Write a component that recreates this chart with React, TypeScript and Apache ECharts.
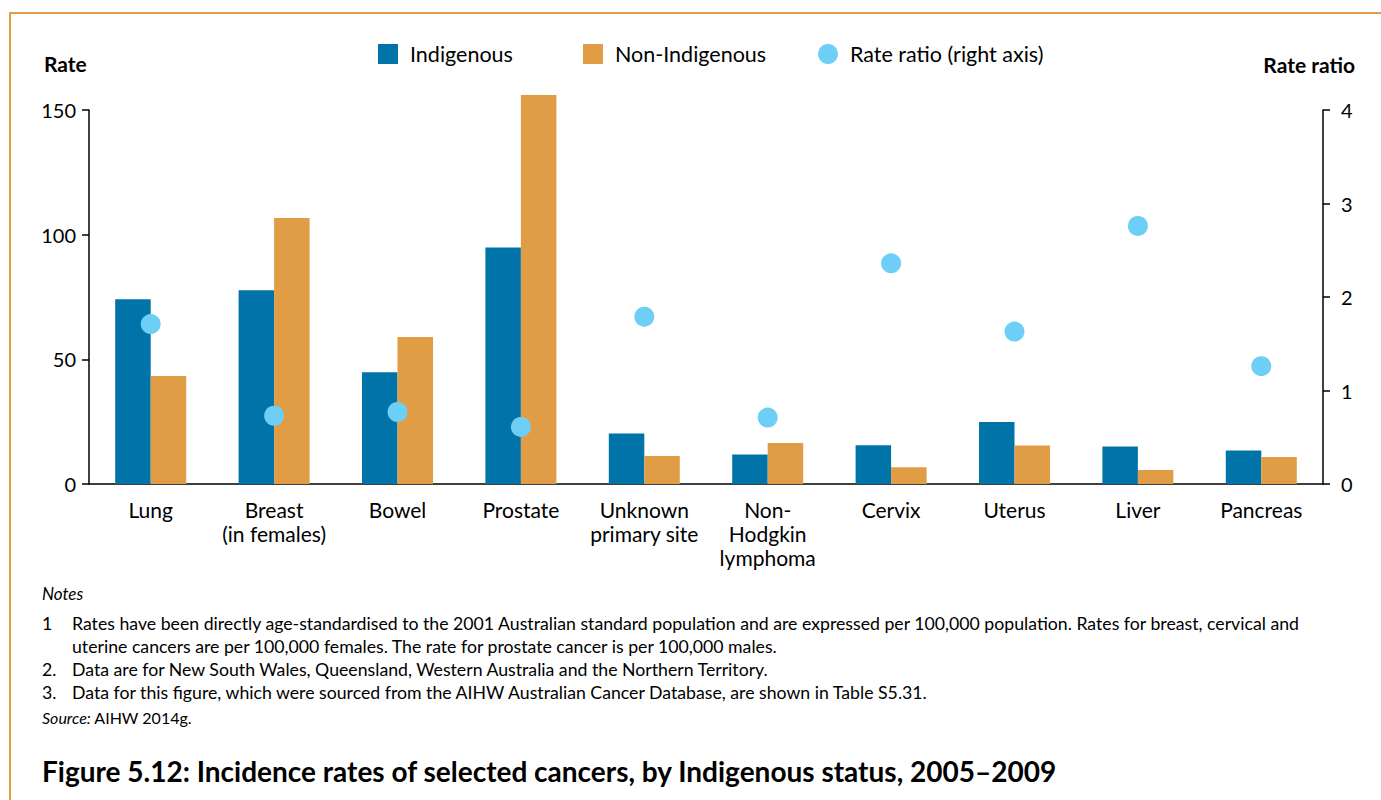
import React, { useEffect, useRef } from "react";
import * as echarts from "echarts";

const categories = [
  "Lung",
  "Breast\n(in females)",
  "Bowel",
  "Prostate",
  "Unknown\nprimary site",
  "Non-\nHodgkin\nlymphoma",
  "Cervix",
  "Uterus",
  "Liver",
  "Pancreas",
];
const indigenous = [74.1, 77.7, 44.8, 94.9, 20.3, 11.8, 15.5, 24.9, 15.0, 13.4];
const nonIndigenous = [43.3, 106.7, 59.0, 156.0, 11.2, 16.4, 6.7, 15.4, 5.6, 10.8];
const rateRatio = [1.71, 0.73, 0.77, 0.61, 1.79, 0.71, 2.36, 1.63, 2.76, 1.26];

const notes = [
  "Rates have been directly age-standardised to the 2001 Australian standard population and are expressed per 100,000 population. Rates for breast, cervical and",
  "uterine cancers are per 100,000 females. The rate for prostate cancer is per 100,000 males.",
  "Data are for New South Wales, Queensland, Western Australia and the Northern Territory.",
  "Data for this figure, which were sourced from the AIHW Australian Cancer Database, are shown in Table S5.31.",
];
const noteNumbers = ["1", "", "2.", "3."];
const titleText = "Figure 5.12: Incidence rates of selected cancers, by Indigenous status, 2005–2009";

const FONT = "Lato";
const BLUE = "#0073A9";
const ORANGE = "#E09D45";
const CYAN = "#6DCFF6";

export default function App() {
  const ref = useRef<HTMLDivElement>(null);
  useEffect(() => {
    if (!ref.current) return;
    const chart = echarts.init(ref.current, null, { renderer: "svg" });
    const noteY = [623, 646, 669, 692];
    const graphics: any[] = [
      {
        type: "rect",
        shape: { x: 10, y: 13, width: 1400, height: 820 },
        style: { fill: "none", stroke: "#E39E47", lineWidth: 2 },
        silent: true,
      },
      {
        type: "text",
        x: 44,
        y: 63,
        style: { text: "Rate", fontFamily: FONT, fontWeight: "bold", fontSize: 21, fill: "#000", verticalAlign: "middle" },
      },
      {
        type: "text",
        x: 1355,
        y: 64,
        style: {
          text: "Rate ratio",
          fontFamily: FONT,
          fontWeight: "bold",
          fontSize: 21,
          fill: "#000",
          align: "right",
          verticalAlign: "middle",
        },
      },
      {
        type: "text",
        x: 42,
        y: 593,
        style: { text: "Notes", fontFamily: FONT, fontStyle: "italic", fontSize: 17, fill: "#000", verticalAlign: "middle" },
      },
      {
        type: "text",
        x: 42,
        y: 717,
        style: {
          text: "{i|Source:} AIHW 2014g.",
          fontFamily: FONT,
          fontSize: 16,
          fill: "#000",
          verticalAlign: "middle",
          rich: { i: { fontFamily: FONT, fontStyle: "italic", fontSize: 16, fill: "#000" } },
        },
      },
      {
        type: "text",
        x: 42,
        y: 771,
        style: { text: titleText, fontFamily: FONT, fontWeight: "bold", fontSize: 28, fill: "#000", verticalAlign: "middle" },
      },
    ];
    notes.forEach((t, i) => {
      if (noteNumbers[i]) {
        graphics.push({
          type: "text",
          x: 42,
          y: noteY[i],
          style: { text: noteNumbers[i], fontFamily: FONT, fontSize: 17.7, fill: "#000", verticalAlign: "middle" },
        });
      }
      graphics.push({
        type: "text",
        x: 72,
        y: noteY[i],
        style: { text: t, fontFamily: FONT, fontSize: 17.7, fill: "#000", verticalAlign: "middle" },
      });
    });

    const legendText = { fontFamily: FONT, fontSize: 21.5, color: "#000", padding: [0, 0, 0, 7] };
    const legendBase = { top: 38, itemWidth: 20, itemHeight: 20, textStyle: legendText, selectedMode: false };
    chart.setOption({
      animation: false,
      textStyle: { fontFamily: FONT },
      legend: [
        { ...legendBase, data: [{ name: "Indigenous", icon: "rect" }], left: 373 },
        { ...legendBase, data: [{ name: "Non-Indigenous", icon: "rect" }], left: 578 },
        { ...legendBase, data: [{ name: "Rate ratio (right axis)", icon: "circle" }], left: 813 },
      ],
      grid: { left: 89, right: 58, top: 110, bottom: 316, containLabel: false },
      xAxis: {
        type: "category",
        data: categories,
        axisLine: { show: true, lineStyle: { color: "#000", width: 1.5 } },
        axisTick: { show: false },
        axisLabel: { color: "#000", fontSize: 21, fontFamily: FONT, lineHeight: 24, margin: 13, interval: 0 },
      },
      yAxis: [
        {
          type: "value",
          min: 0,
          max: 150,
          interval: 50,
          splitLine: { show: false },
          axisLine: { show: true, lineStyle: { color: "#000", width: 1.5 } },
          axisTick: { show: true, length: 7, lineStyle: { color: "#000", width: 1.5 } },
          axisLabel: { color: "#000", fontSize: 20, fontFamily: FONT, margin: 13 },
        },
        {
          type: "value",
          min: 0,
          max: 4,
          interval: 1,
          position: "right",
          splitLine: { show: false },
          axisLine: { show: true, lineStyle: { color: "#000", width: 1.5 } },
          axisTick: { show: true, length: 7, lineStyle: { color: "#000", width: 1.5 } },
          axisLabel: { color: "#000", fontSize: 20, fontFamily: FONT, margin: 18 },
        },
      ],
      series: [
        {
          name: "Indigenous",
          type: "bar",
          data: indigenous,
          barWidth: 35.5,
          barGap: "0%",
          clip: false,
          itemStyle: { color: BLUE },
        },
        {
          name: "Non-Indigenous",
          type: "bar",
          data: nonIndigenous,
          barWidth: 35.5,
          barGap: "0%",
          clip: false,
          itemStyle: { color: ORANGE },
        },
        {
          name: "Rate ratio (right axis)",
          type: "scatter",
          yAxisIndex: 1,
          data: rateRatio,
          symbol: "circle",
          symbolSize: 20,
          z: 5,
          itemStyle: { color: CYAN, opacity: 1 },
        },
      ],
      graphic: graphics,
    });
    return () => chart.dispose();
  }, []);
  return <div ref={ref} style={{ position: "absolute", left: 0, top: 0, width: 1381, height: 800 }} />;
}
